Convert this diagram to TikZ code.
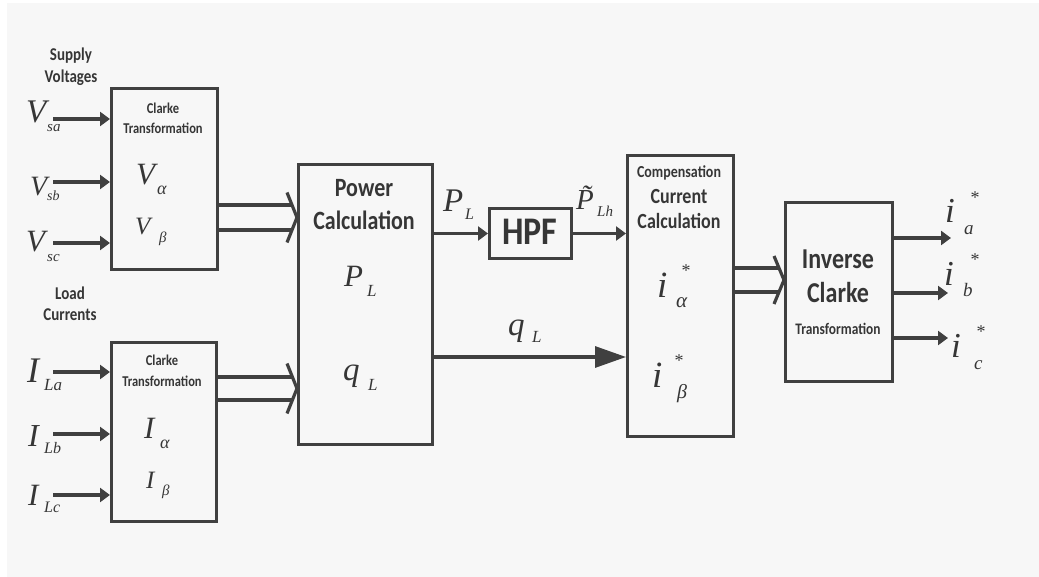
\documentclass[tikz,border=0pt]{standalone}
\usepackage{fontspec}
\setmainfont{Carlito}
\newfontfamily\tm{Liberation Serif}
\usetikzlibrary{arrows.meta,calc}
\definecolor{ln}{HTML}{404040}
\definecolor{bgc}{HTML}{F7F7F7}
\definecolor{tx}{HTML}{363636}
\newcommand{\fs}[1]{\fontsize{#1}{#1}\selectfont}
\newcommand{\vs}[1]{\scalebox{1}[1.2]{#1}}
\begin{document}
\begin{tikzpicture}[x=1pt,y=-1pt,
  blk/.style 2 args={draw=ln,line width=3pt,minimum width=#1pt,minimum height=#2pt,inner sep=0pt,anchor=north west},
  bt/.style={text=tx,inner sep=0pt,align=center,font=\bfseries\fs{#1}},
  mv/.style={font=\tm\itshape\fs{#1},text=tx,inner sep=0pt,anchor=base west},
  star/.style={font=\tm\fs{18},text=tx,inner sep=0pt,anchor=center},
  sa/.style={draw=ln,line width=3.2pt,-{Triangle[length=10pt,width=14pt]}},
  ba/.style={draw=ln,line width=3.2pt,-{Triangle[length=31pt,width=21pt]}},
  dl/.style={draw=ln,line width=3.2pt},
  chev/.style={draw=ln,line width=3.2pt,line join=miter}]
\useasboundingbox (0,0) rectangle (1039,577);
\fill[white] (0,0) rectangle (1039,577);
\fill[bgc] (7,3) rectangle (1039,577);

% blocks
\node[blk={106}{181}] (b1) at (110,87) {};
\node[blk={105}{179}] (b2) at (110,341) {};
\node[blk={134}{280}] (pw) at (297,163) {};
\node[blk={82}{50}] (hpf) at (488,207) {};
\node[blk={106}{281}] (cc) at (626,154) {};
\node[blk={107}{179}] (inv) at (784,201) {};

% texts
\node[bt=15] (tsv1) at (71,56) {\vs{Supply}};
\node[bt=15] (tsv2) at (71,78) {\vs{Voltages}};
\node[bt=15] (tlc1) at (70,293) {\vs{Load}};
\node[bt=15] (tlc2) at (70,315) {\vs{Currents}};
\node[bt=12.5] (t1a) at (163,108) {\vs{Clarke}};
\node[bt=12.5] (t1b) at (163,128) {\vs{Transformation}};
\node[bt=12.5] (t2a) at (162,360) {\vs{Clarke}};
\node[bt=12.5] (t2b) at (162,381) {\vs{Transformation}};
\node[bt=22] (tp1) at (364,188) {\vs{Power}};
\node[bt=22] (tp2) at (364,220) {\vs{Calculation}};
\node[bt=34] (th) at (530,232) {\scalebox{1}[1.15]{HPF}};
\node[bt=14] (tc1) at (679,173) {\vs{Compensation}};
\node[bt=18] (tc2) at (679,196) {\vs{Current}};
\node[bt=18] (tc3) at (679,221) {\vs{Calculation}};
\node[bt=24] (ti1) at (838,259) {\vs{Inverse}};
\node[bt=24] (ti2) at (838,293) {\vs{Clarke}};
\node[bt=13.4] (ti3) at (838,329) {\vs{Transformation}};

% input arrows
\coordinate (vsa) at (53,119);
\coordinate (vsb) at (53,182);
\coordinate (vsc) at (53,243);
\coordinate (ila) at (53,372);
\coordinate (ilb) at (53,434);
\coordinate (ilc) at (53,495);
\draw[sa] (vsa) -- (b1.west |- vsa);
\draw[sa] (vsb) -- (b1.west |- vsb);
\draw[sa] (vsc) -- (b1.west |- vsc);
\draw[sa] (ila) -- (b2.west |- ila);
\draw[sa] (ilb) -- (b2.west |- ilb);
\draw[sa] (ilc) -- (b2.west |- ilc);

% double arrows
\coordinate (d1) at (0,205); \coordinate (d2) at (0,230); \coordinate (dm) at (0,217.5);
\coordinate (e1) at (0,377); \coordinate (e2) at (0,400); \coordinate (em) at (0,388.5);
\coordinate (f1) at (0,268); \coordinate (f2) at (0,292); \coordinate (fm) at (0,280);
\draw[dl] (b1.east |- d1) -- ($(pw.west |- d1)+(-5,0)$);
\draw[dl] (b1.east |- d2) -- ($(pw.west |- d2)+(-5,0)$);
\draw[chev] ($(pw.west |- dm)+(-10,-25)$) -- ($(pw.west |- dm)+(0,0)$) -- ($(pw.west |- dm)+(-10,25)$);
\draw[dl] (b2.east |- e1) -- ($(pw.west |- e1)+(-5,0)$);
\draw[dl] (b2.east |- e2) -- ($(pw.west |- e2)+(-5,0)$);
\draw[chev] ($(pw.west |- em)+(-10,-25)$) -- ($(pw.west |- em)+(0,0)$) -- ($(pw.west |- em)+(-10,25)$);
\draw[dl] (cc.east |- f1) -- ($(inv.west |- f1)+(-5,0)$);
\draw[dl] (cc.east |- f2) -- ($(inv.west |- f2)+(-5,0)$);
\draw[chev] ($(inv.west |- fm)+(-10,-24)$) -- ($(inv.west |- fm)+(0,0)$) -- ($(inv.west |- fm)+(-10,24)$);

% main connectors
\draw[sa] (pw.east |- hpf.west) -- (hpf.west);
\draw[sa] (hpf.east) -- (cc.west |- hpf.east);
\coordinate (ql) at (0,357);
\draw[ba] (pw.east |- ql) -- (cc.west |- ql);

% outputs
\coordinate (oa) at (951,238);
\coordinate (ob) at (948,293);
\coordinate (oc) at (948,338);
\draw[sa] (inv.east |- oa) -- (oa);
\draw[sa] (inv.east |- ob) -- (ob);
\draw[sa] (inv.east |- oc) -- (oc);

% math labels
\node[mv=33] (lvsa) at (26,123) {V};
\node[mv=15] (lvsas) at (47,132) {sa};
\node[mv=28] (lvsb) at (30,196) {V};
\node[mv=14] (lvsbs) at (47,201) {sb};
\node[mv=31] (lvsc) at (26,252) {V};
\node[mv=15] (lvscs) at (47,262) {sc};
\node[mv=31] (lva) at (136,185) {V};
\node[mv=18] (lvas) at (157,195) {α};
\node[mv=25] (lvb) at (135,235) {V};
\node[mv=15] (lvbs) at (159,243) {β};

\node[mv=36] (lila) at (27,382) {I};
\node[mv=17] (lilas) at (44,390) {La};
\node[mv=32] (lilb) at (28,446) {I};
\node[mv=16] (lilbs) at (44,453) {Lb};
\node[mv=31] (lilc) at (28,505) {I};
\node[mv=16] (lilcs) at (44,512) {Lc};
\node[mv=31] (lia) at (144,438) {I};
\node[mv=18] (lias) at (160,448) {α};
\node[mv=25] (lib) at (146,488) {I};
\node[mv=15] (libs) at (162,495) {β};

\node[mv=31] (lpl) at (344,287) {P};
\node[mv=17] (lpls) at (367,297) {L};
\node[mv=33] (lql) at (343,381) {q};
\node[mv=17] (lqls) at (368,390) {L};
\node[mv=33] (lpt) at (443,212) {P};
\node[mv=16] (lpts) at (465,220) {L};
\node[mv=29] (lph) at (576,210) {\~{P}};
\node[mv=15] (lphs) at (597,217) {Lh};
\node[mv=33] (lqm) at (508,336) {q};
\node[mv=17] (lqms) at (532,343) {L};

\node[mv=37] (lia1) at (657,298) {i};
\node[star] (sa1) at (686,271) {*};
\node[mv=21] (lia1s) at (676,308) {α};
\node[mv=37] (lib1) at (652,388) {i};
\node[star] (sb1) at (679,361) {*};
\node[mv=20] (lib1s) at (677,398) {β};

\node[mv=35] (loa) at (945,223) {i};
\node[star] (soa) at (975,198) {*};
\node[mv=19] (loas) at (964,235) {a};
\node[mv=35] (lob) at (944,286) {i};
\node[star] (sob) at (975,260) {*};
\node[mv=19] (lobs) at (963,297) {b};
\node[mv=35] (loc) at (951,358) {i};
\node[star] (soc) at (981,332) {*};
\node[mv=19] (locs) at (974,370) {c};
\end{tikzpicture}
\end{document}
